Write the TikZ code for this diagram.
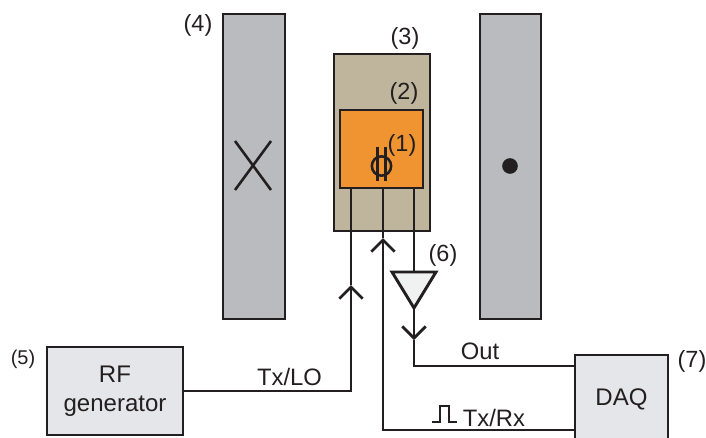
\documentclass[tikz,border=0pt]{standalone}
\usepackage{fontspec}
\setmainfont{Liberation Sans}
\usetikzlibrary{arrows.meta}
\definecolor{inkdark}{HTML}{231F20}
\definecolor{barfill}{HTML}{B9BBBF}
\definecolor{tanfill}{HTML}{BFB49C}
\definecolor{chipfill}{HTML}{F09431}
\definecolor{boxfill}{HTML}{E5E6EA}
\definecolor{ampfill}{HTML}{F0F1F1}
\tikzset{
  wire/.style={draw=inkdark, line width=2.5pt},
  wirearrow/.style={wire, -{Straight Barb[length=10pt, width=20pt, line width=2.3pt]}},
  bar/.style={rectangle, draw=inkdark, line width=1.9pt, fill=barfill, inner sep=0pt, minimum width=1.85cm, minimum height=9.15cm},
  chipbox/.style={rectangle, draw=inkdark, line width=2.5pt, inner sep=0pt},
  devbox/.style={chipbox, fill=boxfill, align=center, font=\fontsize{20.5}{25}\selectfont, text=inkdark},
  numlabel/.style={inner sep=0pt, font=\fontsize{20}{24}\selectfont, text=inkdark},
  wirelabel/.style={inner sep=0pt, font=\fontsize{20.3}{24}\selectfont, text=inkdark}
}
\begin{document}
\begin{tikzpicture}[x=0.03cm, y=-0.03cm]
      \useasboundingbox (0,0) rectangle (706,437);

      \node[bar] (leftbar) at (254,166.5) {};
      \node[bar] (rightbar) at (510.5,166.5) {};
      \node[chipbox, fill=tanfill, minimum width=2.88cm, minimum height=5.31cm] (holder) at (382,142.5) {};
      \node[chipbox, fill=chipfill, minimum width=2.49cm, minimum height=2.34cm] (chip) at (381.5,149) {};
      \node[devbox, minimum width=4.08cm, minimum height=2.64cm] (rfgen) at (115,391) {RF\\generator};
      \node[devbox, minimum width=2.79cm, minimum height=3.3cm] (daq) at (621.5,410) {};
      \node[inner sep=0pt, font=\fontsize{20.5}{25}\selectfont, text=inkdark] (daqtext) at (621.5,399) {DAQ};

      \node[numlabel] (n1) at (402,145) {(1)};
      \node[numlabel] (n2) at (404,93) {(2)};
      \node[numlabel] (n3) at (405,38) {(3)};
      \node[numlabel] (n4) at (198,25) {(4)};
      \node[numlabel, font=\fontsize{17}{20}\selectfont] (n5) at (23,359) {(5)};
      \node[numlabel] (n6) at (443,255) {(6)};
      \node[numlabel] (n7) at (692,361) {(7)};
      \node[wirelabel] (txlo) at (289.5,377) {Tx/LO};
      \node[wirelabel] (out) at (480,351) {Out};
      \node[wirelabel] (txrx) at (494,418) {Tx/Rx};

      % cross and dot
      \node[circle, fill=inkdark, inner sep=0pt, minimum size=0.47cm] (dot) at (510,166) {};
      \draw[wire, line width=2.2pt] (235,141) -- (271,190);
      \draw[wire, line width=2.2pt] (271,141) -- (235,190);

      % flux symbol
      \node[circle, draw=inkdark, line width=2.2pt, inner sep=0pt, minimum size=0.58cm] (squid) at (381.5,166) {};
      \draw[wire, line width=2.2pt] (377.5,147) -- (377.5,181);
      \draw[wire, line width=2.2pt] (385.5,147) -- (385.5,181);

      % amplifier
      \coordinate (ampin) at (414,272);
      \coordinate (ampout) at (414,308);
      \draw[wire, fill=ampfill, line join=miter] (392,272) -- (436,272) -- (ampout) -- cycle;

      \coordinate (lotip) at (351,285);
      \coordinate (rxtip) at (383,238);
      \coordinate (outtip) at (414,340);
      \coordinate (outend) at (575,366);
      \coordinate (rxend) at (575,430);

      \draw[wirearrow] (rfgen.east) -| (lotip);
      \draw[wire] (lotip) -- (chip.south -| lotip);
      \draw[wirearrow] (rxend) -| (rxtip);
      \draw[wire] (rxtip) -- (chip.south -| rxtip);
      \draw[wire] (chip.south -| ampin) -- (ampin);
      \draw[wirearrow] (ampout) -- (outtip);
      \draw[wire] (outtip) |- (outend);

      % pulse
      \draw[wire, line width=2.3pt, line join=miter] (432,422) -- (440,422) -- (440,406) -- (449,406) -- (449,422) -- (457,422);
\end{tikzpicture}
\end{document}
